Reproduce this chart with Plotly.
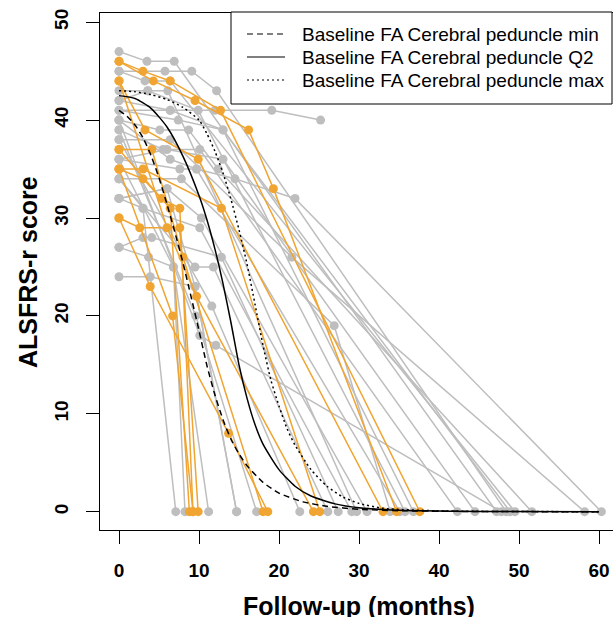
import plotly.graph_objects as go

# ---------------- data ----------------
gray_times = [
    [0, 3.5, 6.9, 47.2],
    [0, 6.4, 12, 19.1, 25.2],
    [0, 5.75, 9.1, 12.2, 48.4],
    [0, 3.25, 6.4, 49.5],
    [0, 3.6, 6.1, 29.7],
    [0, 3.6, 9.9, 35.75],
    [0, 7.4, 13, 48.9],
    [0, 5.1, 8.7, 12.4, 51.6],
    [0, 6.4, 21.6, 58.2],
    [0, 5.5, 10.1, 42.3],
    [0, 6, 13, 44.5],
    [0, 6.4, 9.7, 14.5, 22, 60.3],
    [0, 7.8, 26.9, 33.9],
    [0, 6, 10.3, 31],
    [0, 3, 10.1, 29.1],
    [0, 3, 4.1, 12.8, 27.4],
    [0, 3.7, 6.8, 11.2],
    [0, 9.5, 11.8, 26.1],
    [0, 3.9, 9.5, 14.7],
    [0, 11.6, 22.6],
    [0, 9.6, 17.2],
    [0, 10.1, 12.1, 47.8],
    [0, 3, 7.1],
    [0, 6.8, 8.25],
    [0, 6.4, 13, 36.8],
    [0, 7.6, 9.7, 35.1],
    [0, 6, 9.5, 14.7],
]
gray_scores = [
    [47, 46, 46, 0],
    [42, 41, 41, 41, 40],
    [45, 45, 45, 43, 0],
    [45, 44, 44, 0],
    [43, 43, 43, 0],
    [42, 43, 41, 0],
    [41, 40, 39, 0],
    [40, 39, 39, 35, 0],
    [38, 38, 26, 0],
    [39, 37, 37, 0],
    [36, 37, 36, 0],
    [40, 36, 35, 34, 32, 0],
    [34, 34, 19, 0],
    [32, 33, 30, 0],
    [32, 31, 29, 0],
    [27, 28, 28, 26, 0],
    [27, 26, 25, 0],
    [34, 25, 25, 0],
    [24, 24, 23, 0],
    [38, 21, 0],
    [39, 20, 0],
    [40, 18, 17, 0],
    [34, 31, 0],
    [36, 25, 0],
    [41, 41, 39, 0],
    [36, 35, 35, 0],
    [32, 33, 23, 0],
]
orange_times = [
    [0, 4.3, 9.5, 16.2, 19.3, 34.7],
    [0, 3, 6.4, 12.7, 37.6],
    [0, 3.25, 9.9, 33],
    [0, 3, 6.4, 8.8],
    [0, 2.6, 7.6, 9.9],
    [0, 5.3, 7.6, 9.25],
    [0, 3.9, 13.7, 18.6],
    [0, 6.7, 9.25],
    [0, 4.1, 8, 18],
    [0, 3, 12.8, 25.1],
    [0, 6, 9.7, 24.3],
]
orange_scores = [
    [46, 44, 42, 39, 33, 0],
    [46, 45, 44, 41, 0],
    [44, 39, 36, 0],
    [35, 34, 31, 0],
    [30, 29, 29, 0],
    [37, 32, 31, 0],
    [30, 23, 8, 0],
    [35, 20, 0],
    [37, 37, 26, 0],
    [35, 35, 31, 0],
    [44, 29, 22, 0],
]

min_t = [0, 1, 2, 3, 4, 5, 6, 7, 8, 9, 10, 11, 12, 13, 14, 15, 16, 18, 20, 23, 26, 30, 35, 45, 60]
min_v = [41, 40.4, 39.5, 38.2, 36.4, 34.1, 31.4, 28.5, 25.4, 22, 18.5, 14.9, 11.9, 9.4, 7.4,
         5.9, 4.7, 3.0, 1.9, 1.0, 0.55, 0.25, 0.1, 0.02, 0]
q2_t = [0, 2, 4, 6, 8, 10, 11, 12, 13, 14, 15, 16, 17, 18, 20, 22, 24, 27, 30, 35, 45, 60]
q2_v = [42.5, 42.2, 41.2, 39.3, 36.3, 32.3, 29.8, 26.8, 23.3, 19.3, 15.0, 11.6, 8.9, 6.9,
        4.3, 2.6, 1.6, 0.8, 0.4, 0.15, 0.03, 0]
max_t = [0, 2, 4, 6, 8, 10, 11, 12, 13, 14, 15, 16, 17, 18, 19, 20, 21, 22, 24, 26, 28, 30, 33, 40, 60]
max_v = [43, 42.9, 42.6, 42.1, 41.3, 40.0, 38.6, 36.8, 34.6, 31.9, 28.8, 25.3, 21.2, 17.0,
         13.4, 10.8, 8.5, 6.8, 4.3, 2.6, 1.5, 0.85, 0.35, 0.08, 0]

x_ticks = [0, 10, 20, 30, 40, 50, 60]
y_ticks = [0, 10, 20, 30, 40, 50]
legend_labels = ["Baseline FA Cerebral peduncle min",
                 "Baseline FA Cerebral peduncle Q2",
                 "Baseline FA Cerebral peduncle max"]

GRAY = "#BEBEBE"
ORANGE = "#F0A532"
FONT = "Liberation Sans, Arial, sans-serif"
DASH_MIN = "6px,4px"
DASH_MAX = "2px,3px"

fig = go.Figure()

def add_subject(t, v, col):
    fig.add_trace(go.Scatter(
        x=t, y=v, mode="lines+markers",
        line=dict(color=col, width=1.5),
        marker=dict(color=col, size=9, line=dict(width=0)),
        showlegend=False, hoverinfo="skip"))

for t, v in zip(gray_times, gray_scores):
    add_subject(t, v, GRAY)
for t, v in zip(orange_times, orange_scores):
    add_subject(t, v, ORANGE)

for t, v, dash in [(min_t, min_v, DASH_MIN), (q2_t, q2_v, "solid"), (max_t, max_v, DASH_MAX)]:
    fig.add_trace(go.Scatter(
        x=t, y=v, mode="lines",
        line=dict(color="black", width=1.5, dash=dash, shape="spline", smoothing=0.6),
        showlegend=False, hoverinfo="skip"))

FIG_W, FIG_H = 613, 617
L, T, W, H = 100, 13, 513, 517
def px(x):
    return (x - L) / W
def py(y):
    return (T + H - y) / H

shapes = []
annotations = []
shapes.append(dict(type="rect", xref="paper", yref="paper",
                   x0=px(231), x1=px(612), y0=py(104), y1=py(12),
                   line=dict(color="black", width=1), fillcolor="white", layer="above"))
rows = [34, 57, 80]
dashes = [DASH_MIN, "solid", DASH_MAX]
for r, d, lab in zip(rows, dashes, legend_labels):
    shapes.append(dict(type="line", xref="paper", yref="paper",
                       x0=px(247), x1=px(285), y0=py(r), y1=py(r),
                       line=dict(color="black", width=1.2, dash=d), layer="above"))
    annotations.append(dict(x=px(300), y=py(r), xref="paper", yref="paper",
                            text=lab, showarrow=False, xanchor="left", yanchor="middle",
                            font=dict(family=FONT, size=19, color="black")))

annotations.append(dict(x=px(359), y=py(606), xref="paper", yref="paper",
                        text="<b>Follow-up (months)</b>", showarrow=False,
                        xanchor="center", yanchor="middle",
                        font=dict(family=FONT, size=25, color="black")))
annotations.append(dict(x=px(28), y=py(272), xref="paper", yref="paper",
                        text="<b>ALSFRS-r score</b>", showarrow=False, textangle=-90,
                        xanchor="center", yanchor="middle",
                        font=dict(family=FONT, size=25, color="black")))

fig.update_layout(
    width=FIG_W, height=FIG_H,
    margin=dict(l=L, r=0, t=T, b=FIG_H - T - H, pad=0),
    paper_bgcolor="white", plot_bgcolor="white",
    shapes=shapes, annotations=annotations,
    xaxis=dict(range=[-2.375, 61.75], tickvals=x_ticks, ticktext=[f"<b>{v}</b>" for v in x_ticks],
               ticks="outside", ticklen=13, tickwidth=1, tickcolor="black",
               showline=True, linecolor="black", linewidth=1, mirror=True,
               showgrid=False, zeroline=False, ticklabelstandoff=10,
               tickfont=dict(family=FONT, size=19, color="black")),
    yaxis=dict(range=[-1.87, 50.94], tickvals=y_ticks, ticktext=[f"<b>{v}</b>" for v in y_ticks],
               ticks="outside", ticklen=13, tickwidth=1, tickcolor="black",
               showline=True, linecolor="black", linewidth=1, mirror=False,
               showgrid=False, zeroline=False, tickangle=-90, ticklabelstandoff=10,
               tickfont=dict(family=FONT, size=19, color="black")),
)

# remove the browser's default 8px page margin so the figure fills the window
fig.write_html("out.html",
               config={"displayModeBar": False},
               post_script="document.body.style.margin='0';document.body.style.overflow='hidden';")
